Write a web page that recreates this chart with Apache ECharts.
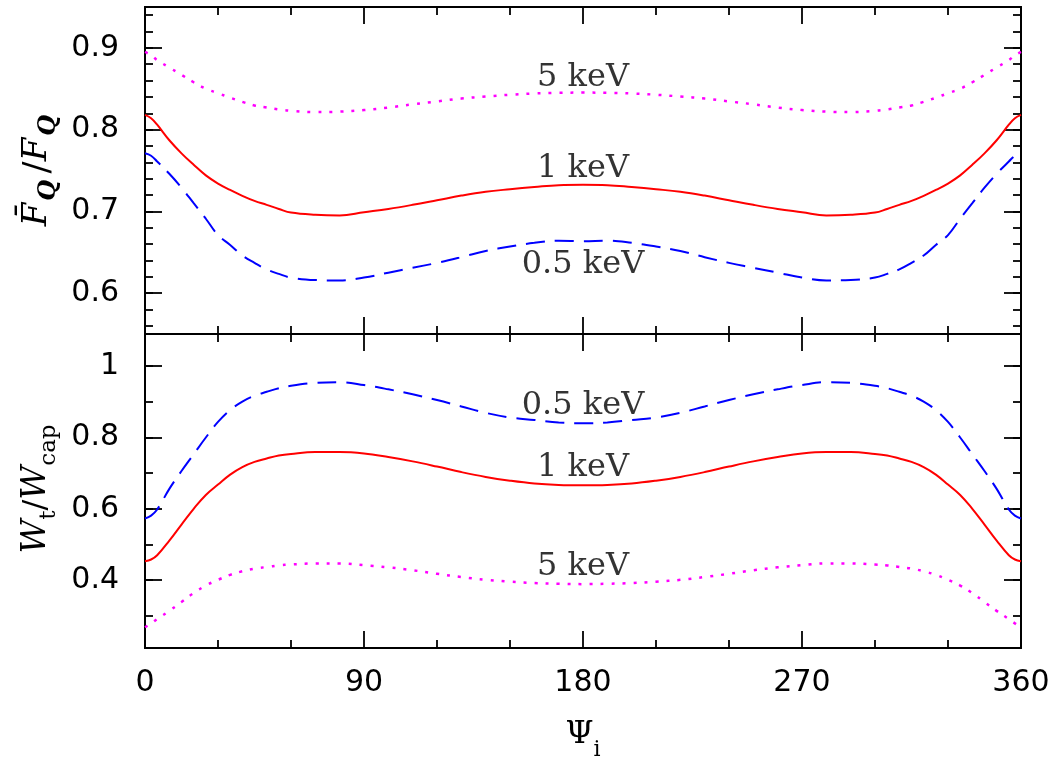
<!DOCTYPE html>
<html>
<head>
<meta charset="utf-8">
<script src="https://cdn.jsdelivr.net/npm/echarts@6/dist/echarts.min.js"></script>
<style>
  html, body { margin: 0; padding: 0; background: #ffffff; }
  #chart { width: 1058px; height: 762px; }
</style>
</head>
<body>
<div id="chart"></div>
<script>
// Phase angle Psi_i in degrees
const psi = [0, 2.5, 5, 10, 15, 20, 25, 30, 35, 40, 45, 50, 55, 60, 70, 80, 90, 100, 110, 120, 130, 140, 150, 160, 170, 180,
             190, 200, 210, 220, 230, 240, 250, 260, 270, 280, 290, 300, 305, 310, 315, 320, 325, 330, 335, 340, 345, 350, 355, 357.5, 360];

// Upper panel: mean F_Q ratio
const fq5keV = [0.895, 0.891, 0.885, 0.876, 0.867, 0.858, 0.850, 0.8445, 0.839, 0.834, 0.8295, 0.827, 0.8247, 0.823, 0.8215, 0.822, 0.824, 0.827, 0.831, 0.8345, 0.838, 0.8405, 0.8427, 0.8442, 0.845, 0.8453,
                0.845, 0.8442, 0.8427, 0.8405, 0.838, 0.8345, 0.831, 0.827, 0.824, 0.822, 0.8215, 0.823, 0.8247, 0.827, 0.8295, 0.834, 0.839, 0.8445, 0.850, 0.858, 0.867, 0.876, 0.885, 0.891, 0.895];
const fq1keV = [0.818, 0.814, 0.806, 0.787, 0.771, 0.757, 0.744, 0.734, 0.7262, 0.719, 0.7128, 0.708, 0.703, 0.6985, 0.6958, 0.695, 0.699, 0.703, 0.708, 0.7136, 0.7193, 0.724, 0.7271, 0.7298, 0.7321, 0.7325,
                0.7321, 0.7298, 0.7271, 0.724, 0.7193, 0.7136, 0.708, 0.703, 0.699, 0.695, 0.6958, 0.6985, 0.703, 0.708, 0.7128, 0.719, 0.7262, 0.734, 0.744, 0.757, 0.771, 0.787, 0.806, 0.814, 0.818];
const fq05keV = [0.771, 0.768, 0.761, 0.746, 0.729, 0.710, 0.691, 0.671, 0.659, 0.646, 0.637, 0.629, 0.6235, 0.619, 0.616, 0.6155, 0.619, 0.625, 0.631, 0.637, 0.644, 0.6515, 0.657, 0.6615, 0.6642, 0.6635,
                 0.6642, 0.6615, 0.657, 0.6515, 0.644, 0.637, 0.631, 0.625, 0.619, 0.6155, 0.616, 0.619, 0.6235, 0.629, 0.637, 0.646, 0.659, 0.671, 0.691, 0.710, 0.729, 0.746, 0.761, 0.768, 0.771];

// Lower panel: W_t / W_cap
const w05keV = [0.573, 0.581, 0.598, 0.656, 0.706, 0.753, 0.800, 0.8435, 0.877, 0.9005, 0.917, 0.928, 0.938, 0.945, 0.953, 0.955, 0.947, 0.935, 0.921, 0.905, 0.887, 0.869, 0.856, 0.849, 0.842, 0.840,
                0.842, 0.849, 0.856, 0.869, 0.887, 0.905, 0.921, 0.935, 0.947, 0.955, 0.953, 0.945, 0.938, 0.928, 0.917, 0.9005, 0.877, 0.8435, 0.800, 0.753, 0.706, 0.656, 0.598, 0.581, 0.573];
const w1keV = [0.453, 0.458, 0.470, 0.511, 0.556, 0.600, 0.639, 0.668, 0.696, 0.717, 0.7315, 0.741, 0.7495, 0.754, 0.759, 0.759, 0.755, 0.745, 0.733, 0.7185, 0.703, 0.6895, 0.679, 0.671, 0.667, 0.666,
               0.667, 0.671, 0.679, 0.6895, 0.703, 0.7185, 0.733, 0.745, 0.755, 0.759, 0.759, 0.754, 0.7495, 0.741, 0.7315, 0.717, 0.696, 0.668, 0.639, 0.600, 0.556, 0.511, 0.470, 0.458, 0.453];
const w5keV = [0.268, 0.279, 0.291, 0.314, 0.339, 0.364, 0.385, 0.401, 0.415, 0.425, 0.4325, 0.437, 0.4415, 0.444, 0.447, 0.447, 0.442, 0.436, 0.428, 0.418, 0.409, 0.401, 0.396, 0.392, 0.390, 0.389,
               0.390, 0.392, 0.396, 0.401, 0.409, 0.418, 0.428, 0.436, 0.442, 0.447, 0.447, 0.444, 0.4415, 0.437, 0.4325, 0.425, 0.415, 0.401, 0.385, 0.364, 0.339, 0.314, 0.291, 0.279, 0.268];

// Curve labels (placed at Psi = 180)
const topNotes = ['5 keV', '1 keV', '0.5 keV'];
const topNoteY = [0.863, 0.7525, 0.635];
const bottomNotes = ['0.5 keV', '1 keV', '5 keV'];
const bottomNoteY = [0.889, 0.716, 0.437];
const noteX = 180;

// Axis ranges and tick labels
const xTicks = [0, 90, 180, 270, 360];
const topRange = [0.55, 0.95];
const bottomRange = [0.21, 1.09];

const BLACK = '#000000';
const tickFont = { fontFamily: 'DejaVu Sans', fontWeight: 'normal', fontSize: 30, color: BLACK };

function pairs(ys) { return psi.map((x, i) => [x, ys[i]]); }

function xAxisCfg(grid, pos, labels) {
  return {
    type: 'value', gridIndex: grid, position: pos,
    min: xTicks[0], max: xTicks[xTicks.length - 1], interval: xTicks[1] - xTicks[0],
    axisLine: { show: true, onZero: false, lineStyle: { color: BLACK, width: 2 } },
    axisTick: { show: true, inside: true, length: 17, lineStyle: { color: BLACK, width: 1.8 } },
    minorTick: { show: true, splitNumber: 3, length: 8, lineStyle: { color: BLACK, width: 1.8 } },
    splitLine: { show: false }, minorSplitLine: { show: false },
    axisLabel: labels ? Object.assign({ show: true, margin: 20, showMinLabel: true, showMaxLabel: true }, tickFont) : { show: false }
  };
}

function yAxisCfg(grid, pos, range, split, len, labels) {
  return {
    type: 'value', gridIndex: grid, position: pos,
    min: range[0], max: range[1], splitNumber: split,
    axisLine: { show: true, onZero: false, lineStyle: { color: BLACK, width: 2 } },
    axisTick: { show: true, inside: true, length: len, lineStyle: { color: BLACK, width: 1.8 } },
    splitLine: { show: false },
    axisLabel: labels ? Object.assign({ show: true, margin: 26, showMinLabel: false, showMaxLabel: false }, tickFont) : { show: false }
  };
}

const serif = 'DejaVu Serif';
const topTitle = Object.assign(yAxisCfg(0, 'left', topRange, 4, 17, true), {
  name: '{f|F\u0304}{q|Q}{g| }{s|/}{f|F}{q|Q}',
  nameLocation: 'middle', nameRotate: 90, nameGap: 84,
  nameTextStyle: {
    rich: {
      f: { fontFamily: serif, fontStyle: 'italic', fontSize: 34, lineHeight: 34, verticalAlign: 'top', color: BLACK },
      s: { fontFamily: serif, fontSize: 36, lineHeight: 34, verticalAlign: 'top', color: BLACK },
      g: { fontFamily: serif, fontSize: 20, lineHeight: 20, verticalAlign: 'top', color: BLACK },
      q: { fontFamily: serif, fontStyle: 'italic', fontWeight: 'bold', fontSize: 24, lineHeight: 24, padding: [16, 0, 0, 2], verticalAlign: 'top', color: BLACK }
    }
  }
});
const bottomTitle = Object.assign(yAxisCfg(1, 'left', bottomRange, 4, 17, true), {
  name: '{w|W}{t|t}{s|/}{w|W}{t|cap}',
  nameLocation: 'middle', nameRotate: 90, nameGap: 84,
  nameTextStyle: {
    padding: [0, 0, 0, 4],
    rich: {
      w: { fontFamily: serif, fontStyle: 'italic', fontSize: 33, lineHeight: 34, verticalAlign: 'top', color: BLACK },
      s: { fontFamily: serif, fontSize: 32, lineHeight: 34, verticalAlign: 'top', color: BLACK },
      t: { fontFamily: serif, fontSize: 23, lineHeight: 23, padding: [17, 0, 0, 0], verticalAlign: 'top', color: BLACK }
    }
  }
});
const bottomX = Object.assign(xAxisCfg(1, 'bottom', true), {
  name: '{p|\u03A8}{i|i}',
  nameLocation: 'middle', nameGap: 71,
  nameTextStyle: {
    rich: {
      p: { fontFamily: serif, fontSize: 32, lineHeight: 32, verticalAlign: 'top', color: BLACK },
      i: { fontFamily: serif, fontSize: 22, lineHeight: 22, padding: [20, 0, 0, 0], verticalAlign: 'top', color: BLACK }
    }
  }
});

function curve(name, x, y, data, color, type, width) {
  return {
    name: name, type: 'line', xAxisIndex: x, yAxisIndex: y, data: pairs(data),
    showSymbol: false, symbol: 'none', smooth: 0.4,
    lineStyle: { color: color, width: width, type: type, cap: 'butt' },
    silent: true, animation: false, z: 3
  };
}

function notes(x, y, texts, ys) {
  return {
    type: 'scatter', xAxisIndex: x, yAxisIndex: y, symbolSize: 1,
    itemStyle: { color: 'rgba(0,0,0,0)' },
    data: texts.map((t, i) => ({ name: t, value: [noteX, ys[i]] })),
    label: { show: true, position: 'inside', formatter: '{b}', fontFamily: serif, fontSize: 32, color: BLACK },
    silent: true, animation: false, z: 5
  };
}

const chart = echarts.init(document.getElementById('chart'), null, { renderer: 'canvas' });
chart.setOption({
  backgroundColor: '#ffffff',
  animation: false,
  grid: [
    { left: 145, right: 37, top: 7, height: 327, containLabel: false },
    { left: 145, right: 37, top: 334, height: 326, containLabel: false }
  ],
  xAxis: [
    xAxisCfg(0, 'bottom', false),
    xAxisCfg(0, 'top', false),
    bottomX,
    xAxisCfg(1, 'top', false)
  ],
  yAxis: [
    topTitle,
    yAxisCfg(0, 'left', topRange, 20, 8, false),
    yAxisCfg(0, 'right', topRange, 4, 17, false),
    yAxisCfg(0, 'right', topRange, 20, 8, false),
    bottomTitle,
    yAxisCfg(1, 'left', bottomRange, 9, 8, false),
    yAxisCfg(1, 'right', bottomRange, 4, 17, false),
    yAxisCfg(1, 'right', bottomRange, 9, 8, false)
  ],
  series: [
    curve('5 keV', 0, 0, fq5keV, '#ff00ff', [3, 8], 2.5),
    curve('1 keV', 0, 0, fq1keV, '#ff0000', 'solid', 2),
    curve('0.5 keV', 0, 0, fq05keV, '#0000ff', [19, 10], 2),
    notes(0, 0, topNotes, topNoteY),
    curve('0.5 keV', 2, 4, w05keV, '#0000ff', [19, 10], 2),
    curve('1 keV', 2, 4, w1keV, '#ff0000', 'solid', 2),
    curve('5 keV', 2, 4, w5keV, '#ff00ff', [3, 8], 2.5),
    notes(2, 4, bottomNotes, bottomNoteY)
  ]
});
</script>
</body>
</html>
